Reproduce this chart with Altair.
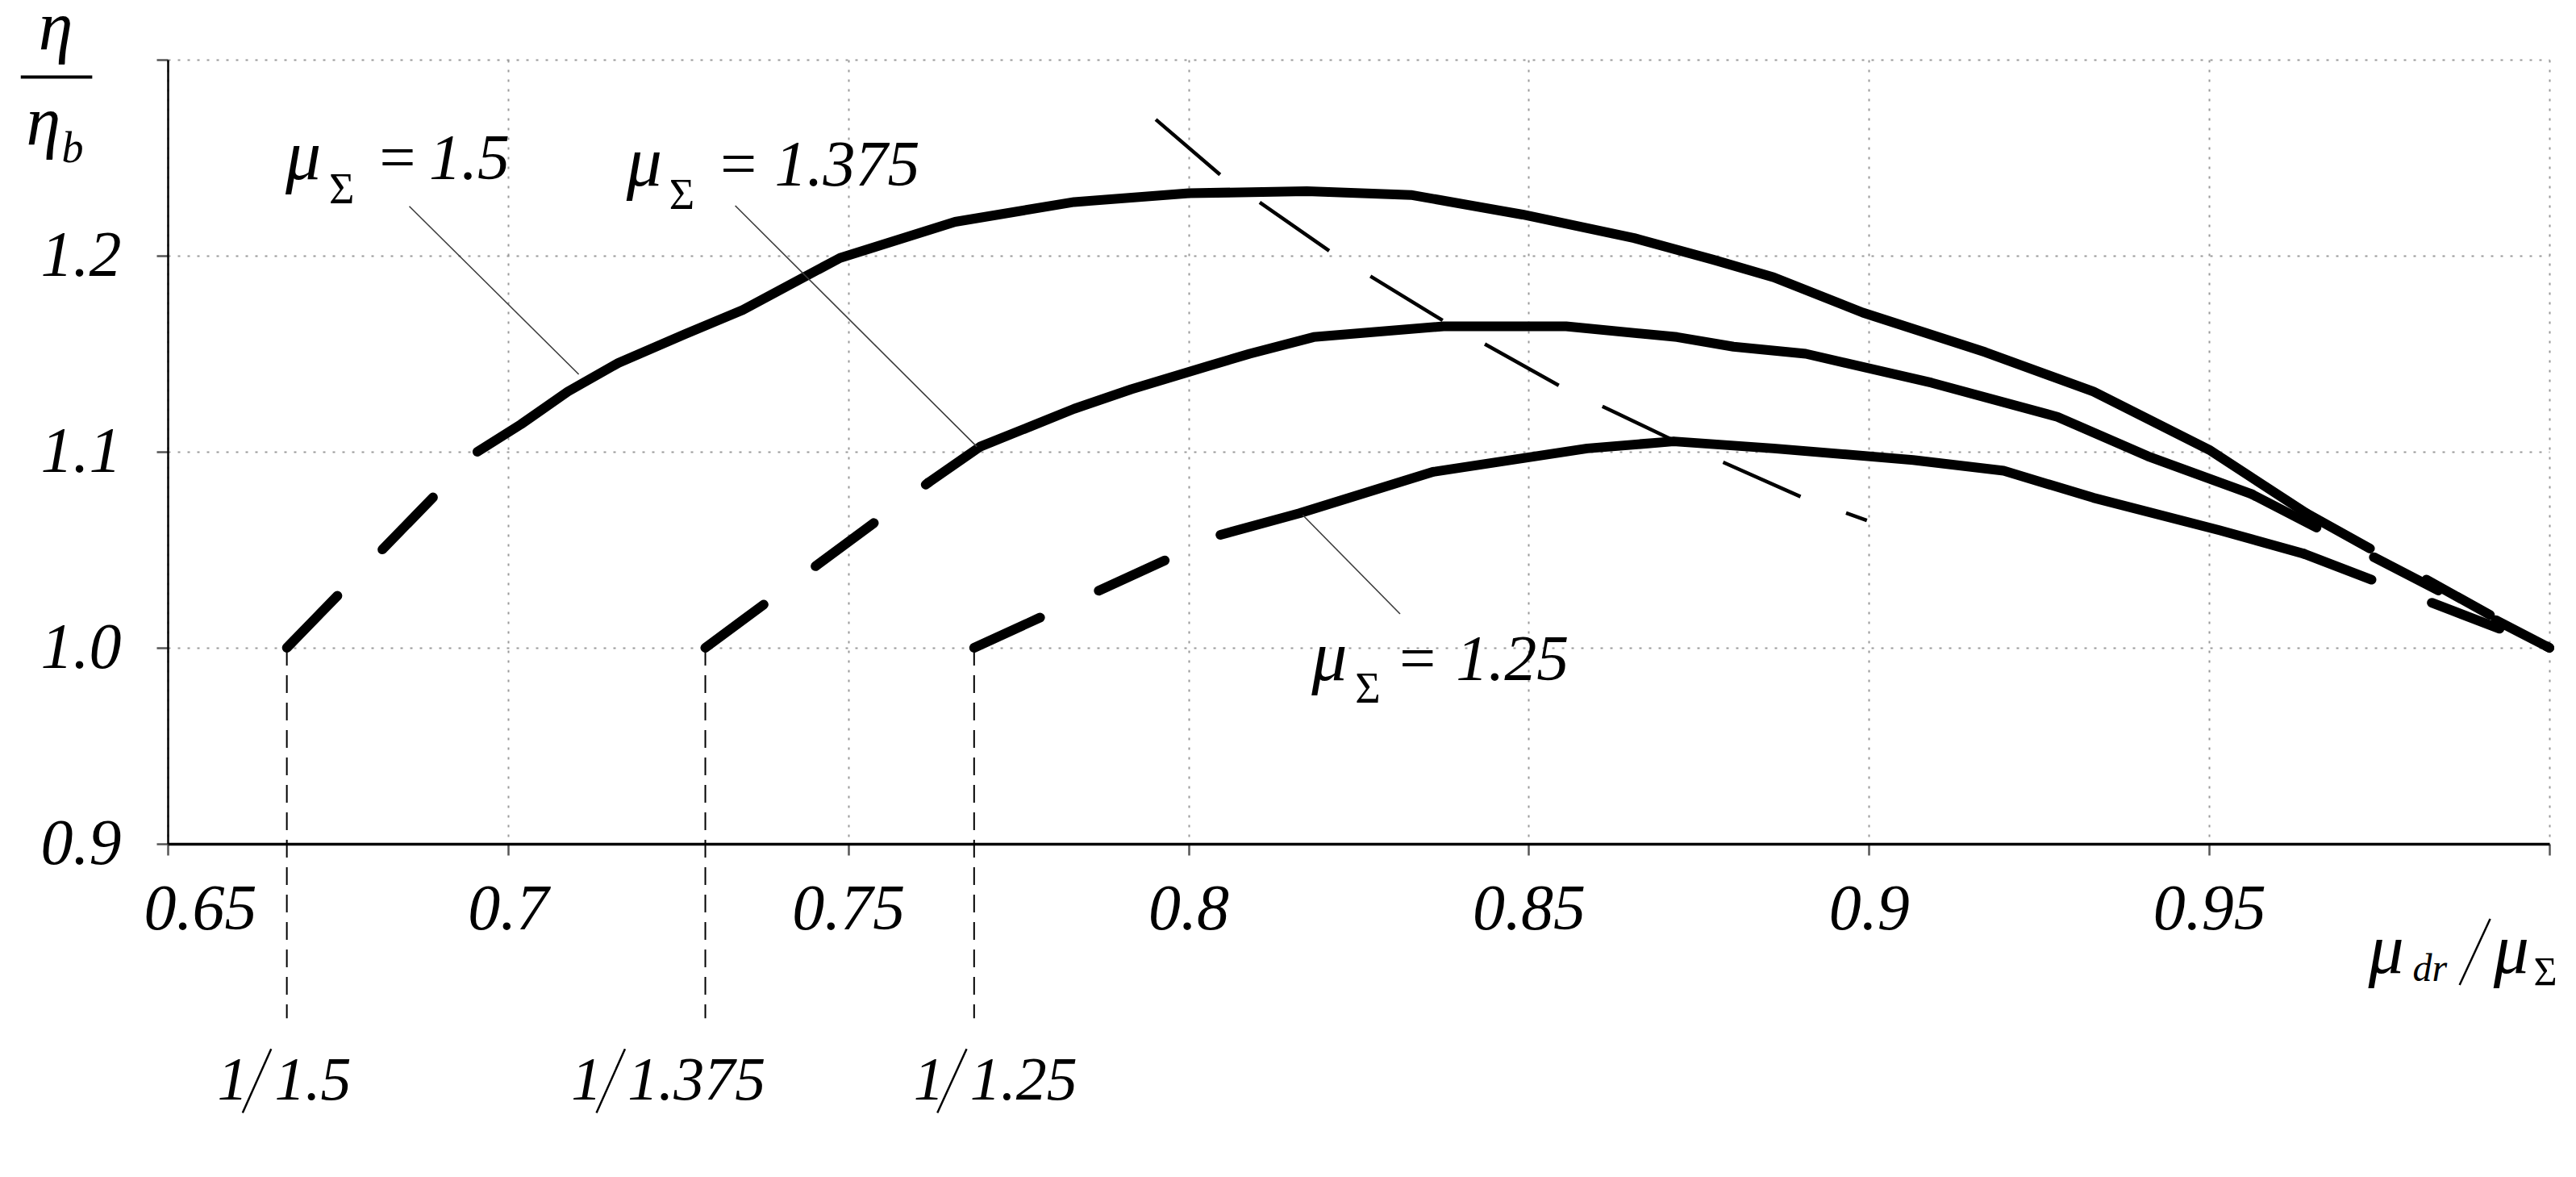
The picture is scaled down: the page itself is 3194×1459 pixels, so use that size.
import altair as alt
import pandas as pd

# ---------------- data ----------------
# mu_sigma = 1.5
c15_start_x = [0.6675, 0.6955]
c15_start_y = [1.000, 1.100]
c15_solid_x = [0.6955, 0.7019, 0.7088, 0.7162, 0.7260, 0.7345, 0.7488, 0.7657, 0.7832, 0.8001,
               0.8174, 0.8327, 0.8491, 0.8655, 0.8771, 0.8860, 0.8991, 0.9171, 0.9330, 0.9500, 0.9643]
c15_solid_y = [1.100, 1.114, 1.1307, 1.1453, 1.160, 1.1723, 1.1989, 1.2173, 1.2274, 1.2319,
               1.2329, 1.231, 1.221, 1.209, 1.198, 1.189, 1.171, 1.1508, 1.1307, 1.101, 1.0686]
c15_end_x = [0.9643, 1.0]
c15_end_y = [1.0686, 1.0]

# mu_sigma = 1.375
c1375_start_x = [0.729, 0.7618]
c1375_start_y = [1.000, 1.0843]
c1375_solid_x = [0.7618, 0.7694, 0.7832, 0.7916, 0.8031, 0.8090, 0.8184, 0.8375, 0.8555, 0.8718,
                 0.8801, 0.8907, 0.9092, 0.9277, 0.9410, 0.9563]
c1375_solid_y = [1.0843, 1.1026, 1.1219, 1.1319, 1.1439, 1.1500, 1.1585, 1.1640, 1.1640, 1.1585,
                 1.1536, 1.1500, 1.1352, 1.1178, 1.0977, 1.0783]
c1375_end_x = [0.9563, 1.0]
c1375_end_y = [1.0783, 1.0]

# mu_sigma = 1.25
c125_start_x = [0.7685, 0.8047]
c125_start_y = [1.000, 1.0576]
c125_solid_x = [0.8047, 0.8163, 0.8359, 0.8586, 0.8713, 0.8860, 0.9065, 0.9198, 0.9330, 0.9515, 0.9639]
c125_solid_y = [1.0576, 1.0686, 1.0897, 1.1017, 1.1053, 1.1017, 1.0958, 1.0903, 1.0765, 1.0600, 1.0480]
c125_end_x = [0.9639, 1.0]
c125_end_y = [1.0480, 1.0]

# thin long-dash line through the maxima
peak_x = [0.7952, 0.8047, 0.8208, 0.8376, 0.8546, 0.8712, 0.8901, 0.8997]
peak_y = [1.2695, 1.2412, 1.2022, 1.1665, 1.1335, 1.1060, 1.0769, 1.0650]

# vertical reference lines at 1/mu_sigma
vref_x = [0.6675, 0.729, 0.7685]
vref_top = [1.0, 1.0, 1.0]
vref_bottom = [0.811, 0.811, 0.811]

# axis ticks
x_ticks = [0.65, 0.70, 0.75, 0.80, 0.85, 0.90, 0.95, 1.00]
y_ticks = [0.9, 1.0, 1.1, 1.2, 1.3]

# curve labels (italic parts)
lab_it_text = ["μ", "=", "1.5", "μ", "=", "1.375", "μ", "=", "1.25"]
lab_it_x = [0.6673, 0.6805, 0.6884, 0.7174, 0.7306, 0.7392, 0.8181, 0.8304, 0.8393]
lab_it_y = [1.2390, 1.2390, 1.2390, 1.2358, 1.2358, 1.2358, 0.9835, 0.9835, 0.9835]
lab_it_size = [88, 80, 80, 88, 80, 80, 88, 80, 80]
# subscript sigma of the curve labels
lab_sub_text = ["Σ", "Σ", "Σ"]
lab_sub_x = [0.6737, 0.7237, 0.8245]
lab_sub_y = [1.2267, 1.2240, 0.9720]
lab_sub_size = [54, 54, 54]

# leader lines
lead_x1 = [0.6855, 0.7334, 0.8168]
lead_y1 = [1.2252, 1.2255, 1.0677]
lead_x2 = [0.7104, 0.7689, 0.8311]
lead_y2 = [1.1395, 1.1026, 1.0173]

# 1/mu labels under the axis and axis titles (italic pieces)
under_text = ["1", "1.5", "1", "1.375", "1", "1.25", "η", "η", "b", "μ", "dr", "μ"]
under_x = [0.6573, 0.6657, 0.7093, 0.7176, 0.7596, 0.7679, 0.6310, 0.6292, 0.6344, 0.9734, 0.9799, 0.9918]
under_y = [0.7695, 0.7695, 0.7695, 0.7695, 0.7695, 0.7695, 1.3052, 1.2567, 1.2477, 0.8342, 0.8301, 0.8342]
under_size = [76, 76, 76, 76, 76, 76, 86, 86, 54, 88, 48, 88]
title_sub_text = ["Σ"]
title_sub_x = [0.9977]
title_sub_y = [0.8280]
title_sub_size = [50]

# slashes and fraction bar
slash_x1 = [0.6652, 0.7172, 0.7674, 0.9913, 0.6284]
slash_y1 = [0.7954, 0.7954, 0.7954, 0.8617, 1.2912]
slash_x2 = [0.6610, 0.7130, 0.7631, 0.9868, 0.6389]
slash_y2 = [0.7628, 0.7628, 0.7628, 0.8280, 1.2912]
slash_w = [2.5, 2.5, 2.5, 2.5, 4]

# ---------------- build tables ----------------
def seg(name, xs, ys):
    return pd.DataFrame({"x": xs, "y": ys, "seg": name, "i": list(range(len(xs)))})

solid_df = pd.concat([seg("s15", c15_solid_x, c15_solid_y),
                      seg("s1375", c1375_solid_x, c1375_solid_y),
                      seg("s125", c125_solid_x, c125_solid_y)])
dash_df = pd.concat([seg("a15", c15_start_x, c15_start_y), seg("b15", c15_end_x, c15_end_y),
                     seg("a1375", c1375_start_x, c1375_start_y), seg("b1375", c1375_end_x, c1375_end_y),
                     seg("a125", c125_start_x, c125_start_y), seg("b125", c125_end_x, c125_end_y)])
peak_df = seg("peak", peak_x, peak_y)
vref_df = pd.DataFrame({"x": vref_x, "y": vref_top, "y2": vref_bottom})
lead_df = pd.DataFrame({"x": lead_x1, "y": lead_y1, "x2": lead_x2, "y2": lead_y2})
slash_df = pd.DataFrame({"x": slash_x1, "y": slash_y1, "x2": slash_x2, "y2": slash_y2, "w": slash_w})
it_df = pd.DataFrame({"x": lab_it_x + under_x, "y": lab_it_y + under_y,
                      "t": lab_it_text + under_text, "s": lab_it_size + under_size})
up_df = pd.DataFrame({"x": lab_sub_x + title_sub_x, "y": lab_sub_y + title_sub_y,
                      "t": lab_sub_text + title_sub_text, "s": lab_sub_size + title_sub_size})

FONT = "Liberation Serif"

xscale = alt.Scale(domain=[0.65, 1.0], nice=False, zero=False)
yscale = alt.Scale(domain=[0.9, 1.3], nice=False, zero=False)

common_axis = dict(grid=True, gridDash=[3, 9], gridColor="#9a9a9a", gridWidth=2,
                   domainColor="black", tickColor="#555555", tickWidth=2.5, tickSize=14,
                   labelFont=FONT, labelFontStyle="italic", labelFontSize=80, labelColor="black",
                   labelOverlap=False, title=None)

x_enc = alt.X("x:Q", scale=xscale,
              axis=alt.Axis(values=x_ticks, domainWidth=3.5, labelPadding=28,
                            labelFlush=True, labelFlushOffset=30,
                            labelExpr="datum.value > 0.99 ? '' : format(datum.value, '~g')",
                            **common_axis))
y_enc = alt.Y("y:Q", scale=yscale,
              axis=alt.Axis(values=y_ticks, domainWidth=2.5, labelPadding=44, labelFlush=False,
                            labelExpr="datum.value > 1.25 ? '' : format(datum.value, '.1f')",
                            **common_axis))

base_x = alt.X("x:Q", scale=xscale)
base_y = alt.Y("y:Q", scale=yscale)

solid = alt.Chart(solid_df).mark_line(color="black", strokeWidth=12, strokeCap="round",
                                      strokeJoin="round").encode(
    x=x_enc, y=y_enc, detail="seg:N", order="i:Q")

dashed = alt.Chart(dash_df).mark_line(color="black", strokeWidth=12, strokeCap="round",
                                      strokeDash=[90, 80]).encode(
    x=base_x, y=base_y, detail="seg:N", order="i:Q")

peak = alt.Chart(peak_df).mark_line(color="black", strokeWidth=4.5, strokeCap="butt",
                                    strokeDash=[105, 60]).encode(
    x=base_x, y=base_y, order="i:Q")

vref = alt.Chart(vref_df).mark_rule(color="black", strokeWidth=2, strokeDash=[22, 12]).encode(
    x=base_x, y=base_y, y2="y2:Q")

lead = alt.Chart(lead_df).mark_rule(color="#3a3a3a", strokeWidth=1.6).encode(
    x=base_x, y=base_y, x2="x2:Q", y2="y2:Q")

slash = alt.Chart(slash_df).mark_rule(color="black").encode(
    x=base_x, y=base_y, x2="x2:Q", y2="y2:Q",
    strokeWidth=alt.StrokeWidth("w:Q", scale=None, legend=None))

it_text = alt.Chart(it_df).mark_text(font=FONT, fontStyle="italic", align="left",
                                     baseline="alphabetic", color="black").encode(
    x=base_x, y=base_y, text="t:N", size=alt.Size("s:Q", scale=None, legend=None))

up_text = alt.Chart(up_df).mark_text(font=FONT, fontStyle="normal", align="left",
                                     baseline="alphabetic", color="black").encode(
    x=base_x, y=base_y, text="t:N", size=alt.Size("s:Q", scale=None, legend=None))

chart = alt.layer(solid, dashed, peak, vref, lead, slash, it_text, up_text).properties(
    width=2953, height=972,
    padding={"left": 200, "top": 66, "right": 20, "bottom": 400},
    autosize=alt.AutoSizeParams(type="none"),
    background="white",
).configure_view(stroke=None)

chart.save("out.html", embed_options={"renderer": "svg", "actions": False})
